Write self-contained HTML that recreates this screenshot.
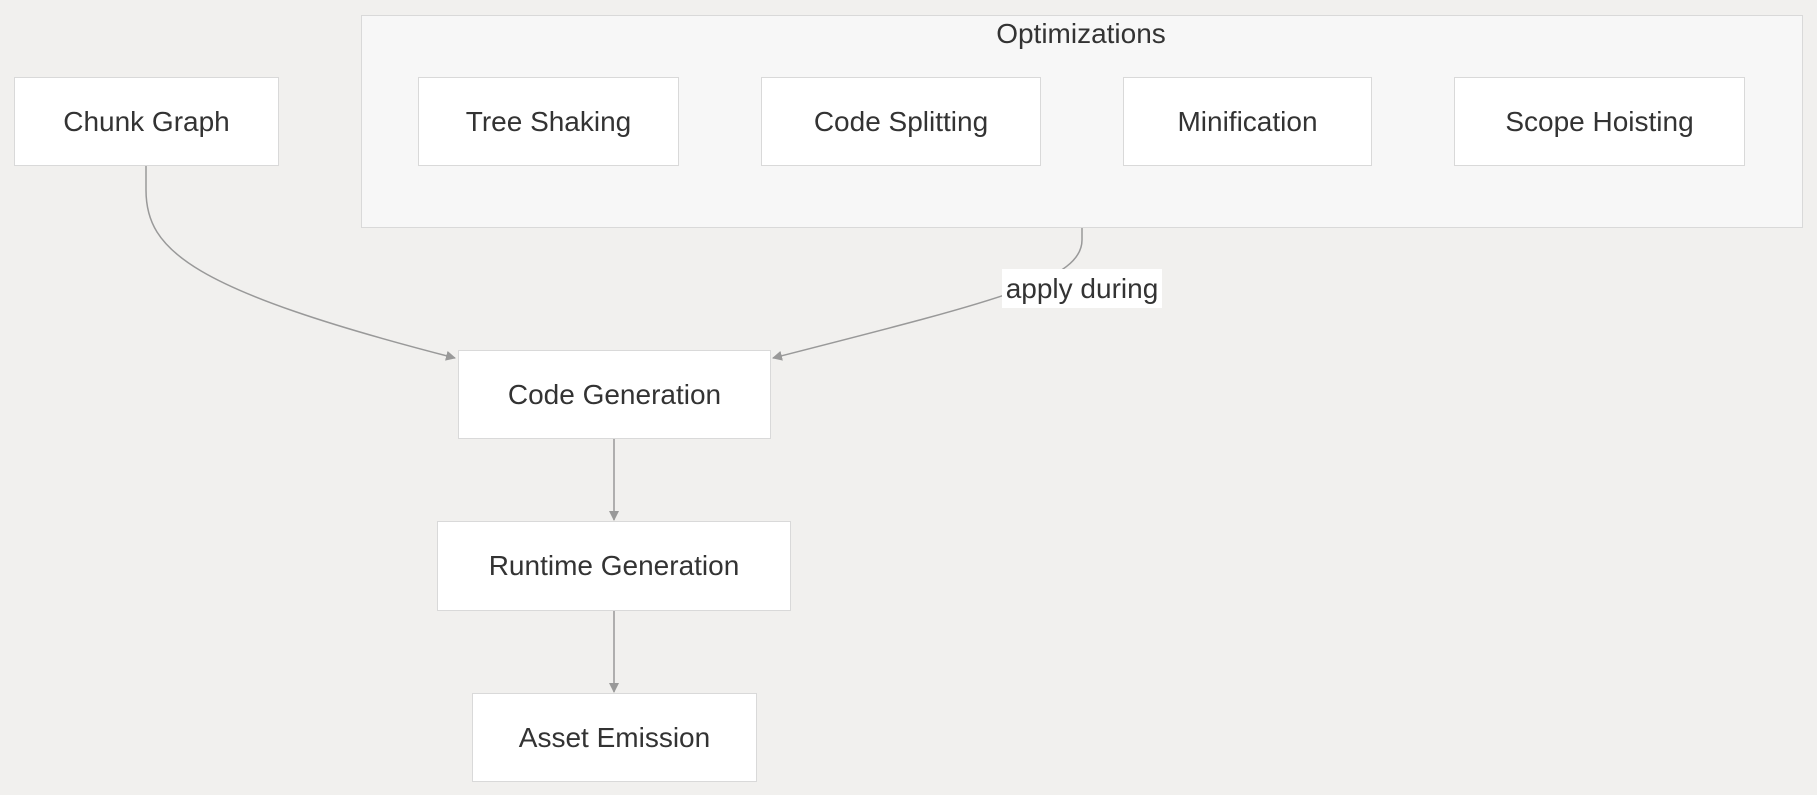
<!DOCTYPE html>
<html><head><style>
body{margin:0;width:1817px;height:795px;background:#f1f0ee;overflow:hidden;font-family:"Segoe UI","Liberation Sans",sans-serif;}
.n{position:absolute;background:#fff;border:1.5px solid #d9d9d9;box-sizing:border-box;display:flex;align-items:center;justify-content:center;font-size:28px;color:#333;}
</style></head><body>
<div style="position:absolute;left:361px;top:15px;width:1442px;height:213px;background:#f7f7f7;border:1.5px solid #d9d9d9;box-sizing:border-box"></div>
<div style="position:absolute;left:0;width:2162px;top:18px;text-align:center;font-size:28px;color:#333">Optimizations</div>
<svg style="position:absolute;left:0;top:0" width="1817" height="795">
<defs><marker id="a" markerWidth="10" markerHeight="10" refX="9" refY="5" orient="auto" markerUnits="userSpaceOnUse"><path d="M0,0L10,5L0,10z" fill="#999"/></marker></defs>
<g fill="none" stroke="#999" stroke-width="1.5">
<path d="M146,166 L146,190 C146,250 190,290 455,358" marker-end="url(#a)"/>
<path d="M1082,228 L1082,240 C1082,280 1000,300 773,358" marker-end="url(#a)"/>
<path d="M614,439 L614,520" marker-end="url(#a)"/>
<path d="M614,611 L614,692" marker-end="url(#a)"/>
</g></svg>
<div style="position:absolute;left:1002px;top:269px;width:160px;height:39px;background:#fff;font-size:28px;color:#333;text-align:center;line-height:39px;white-space:nowrap">apply during</div>
<div class="n" style="left:14px;top:77px;width:265px;height:89px">Chunk Graph</div>
<div class="n" style="left:418px;top:77px;width:261px;height:89px">Tree Shaking</div>
<div class="n" style="left:761px;top:77px;width:280px;height:89px">Code Splitting</div>
<div class="n" style="left:1123px;top:77px;width:249px;height:89px">Minification</div>
<div class="n" style="left:1454px;top:77px;width:291px;height:89px">Scope Hoisting</div>
<div class="n" style="left:458px;top:350px;width:313px;height:89px">Code Generation</div>
<div class="n" style="left:437px;top:521px;width:354px;height:90px">Runtime Generation</div>
<div class="n" style="left:472px;top:693px;width:285px;height:89px">Asset Emission</div>
</body></html>
